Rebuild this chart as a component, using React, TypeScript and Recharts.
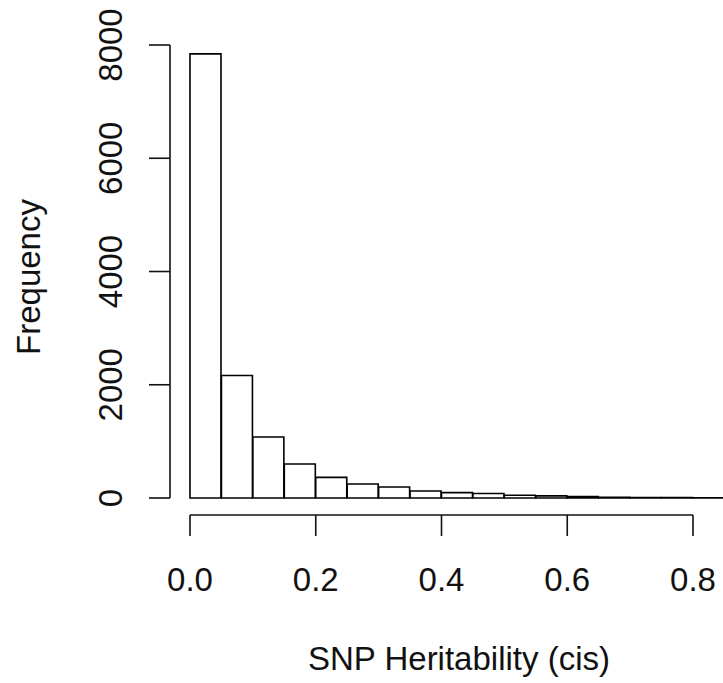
import { BarChart, Bar, XAxis, YAxis, ReferenceLine, Label } from 'recharts';

// histogram bins (width 0.05), midpoints and counts
const binMids = [0.025, 0.075, 0.125, 0.175, 0.225, 0.275, 0.325, 0.375, 0.425, 0.475, 0.525, 0.575, 0.625, 0.675, 0.725, 0.775, 0.825];
const counts = [7843, 2164, 1077, 600, 364, 247, 194, 125, 95, 80, 50, 38, 25, 14, 10, 7, 5];

const xTicks = [0, 0.2, 0.4, 0.6, 0.8];
const yTicks = [0, 2000, 4000, 6000, 8000];

const FONT = '"Liberation Sans", Arial, Helvetica, sans-serif';
const INK = '#111';

const data = binMids.map((mid, i) => ({ mid, count: counts[i] }));

const XTick = ({ x, payload }: any) => (
  <text x={x} y={591} textAnchor="middle" fontSize={33} fontFamily={FONT} fill={INK}>
    {Number(payload.value).toFixed(1)}
  </text>
);

const YTick = ({ y, payload }: any) => (
  <text
    x={122}
    y={y}
    transform={`rotate(-90, 122, ${y})`}
    textAnchor="middle"
    fontSize={33}
    fontFamily={FONT}
    fill={INK}
  >
    {payload.value}
  </text>
);

export default function App() {
  return (
    <div style={{ position: 'absolute', left: 0, top: 0, background: '#fff' }}>
      <BarChart
        width={723}
        height={683}
        data={data}
        margin={{ top: 45, right: 0, bottom: 0, left: 0 }}
        barCategoryGap={0}
        barGap={0}
        style={{ fontFamily: FONT }}
      >
        <XAxis
          dataKey="mid"
          type="number"
          domain={[-0.0318, 0.8477]}
          allowDataOverflow
          ticks={xTicks}
          interval={0}
          height={168}
          axisLine={false}
          tickSize={21}
          tickLine={{ stroke: INK, strokeWidth: 1.6 }}
          tick={<XTick />}
        >
          <Label
            content={() => (
              <text x={459} y={670} textAnchor="middle" fontSize={33} fontFamily={FONT} fill={INK}>
                SNP Heritability (cis)
              </text>
            )}
          />
        </XAxis>
        <YAxis
          type="number"
          domain={[-300, 8000]}
          allowDataOverflow
          ticks={yTicks}
          interval={0}
          width={170}
          axisLine={false}
          tickSize={21}
          tickLine={{ stroke: INK, strokeWidth: 1.6 }}
          tick={<YTick />}
        >
          <Label
            content={() => (
              <text
                x={40}
                y={277}
                transform="rotate(-90, 40, 277)"
                textAnchor="middle"
                fontSize={33}
                fontFamily={FONT}
                fill={INK}
              >
                Frequency
              </text>
            )}
          />
        </YAxis>
        <Bar dataKey="count" fill="#fff" stroke="#000" strokeWidth={1.6} isAnimationActive={false} />
        <ReferenceLine
          segment={[{ x: 0, y: -300 }, { x: 0.8, y: -300 }]}
          stroke={INK}
          strokeWidth={1.6}
          ifOverflow="visible"
        />
        <ReferenceLine
          segment={[{ x: -0.0318, y: 0 }, { x: -0.0318, y: 8000 }]}
          stroke={INK}
          strokeWidth={1.6}
          ifOverflow="visible"
        />
      </BarChart>
    </div>
  );
}
